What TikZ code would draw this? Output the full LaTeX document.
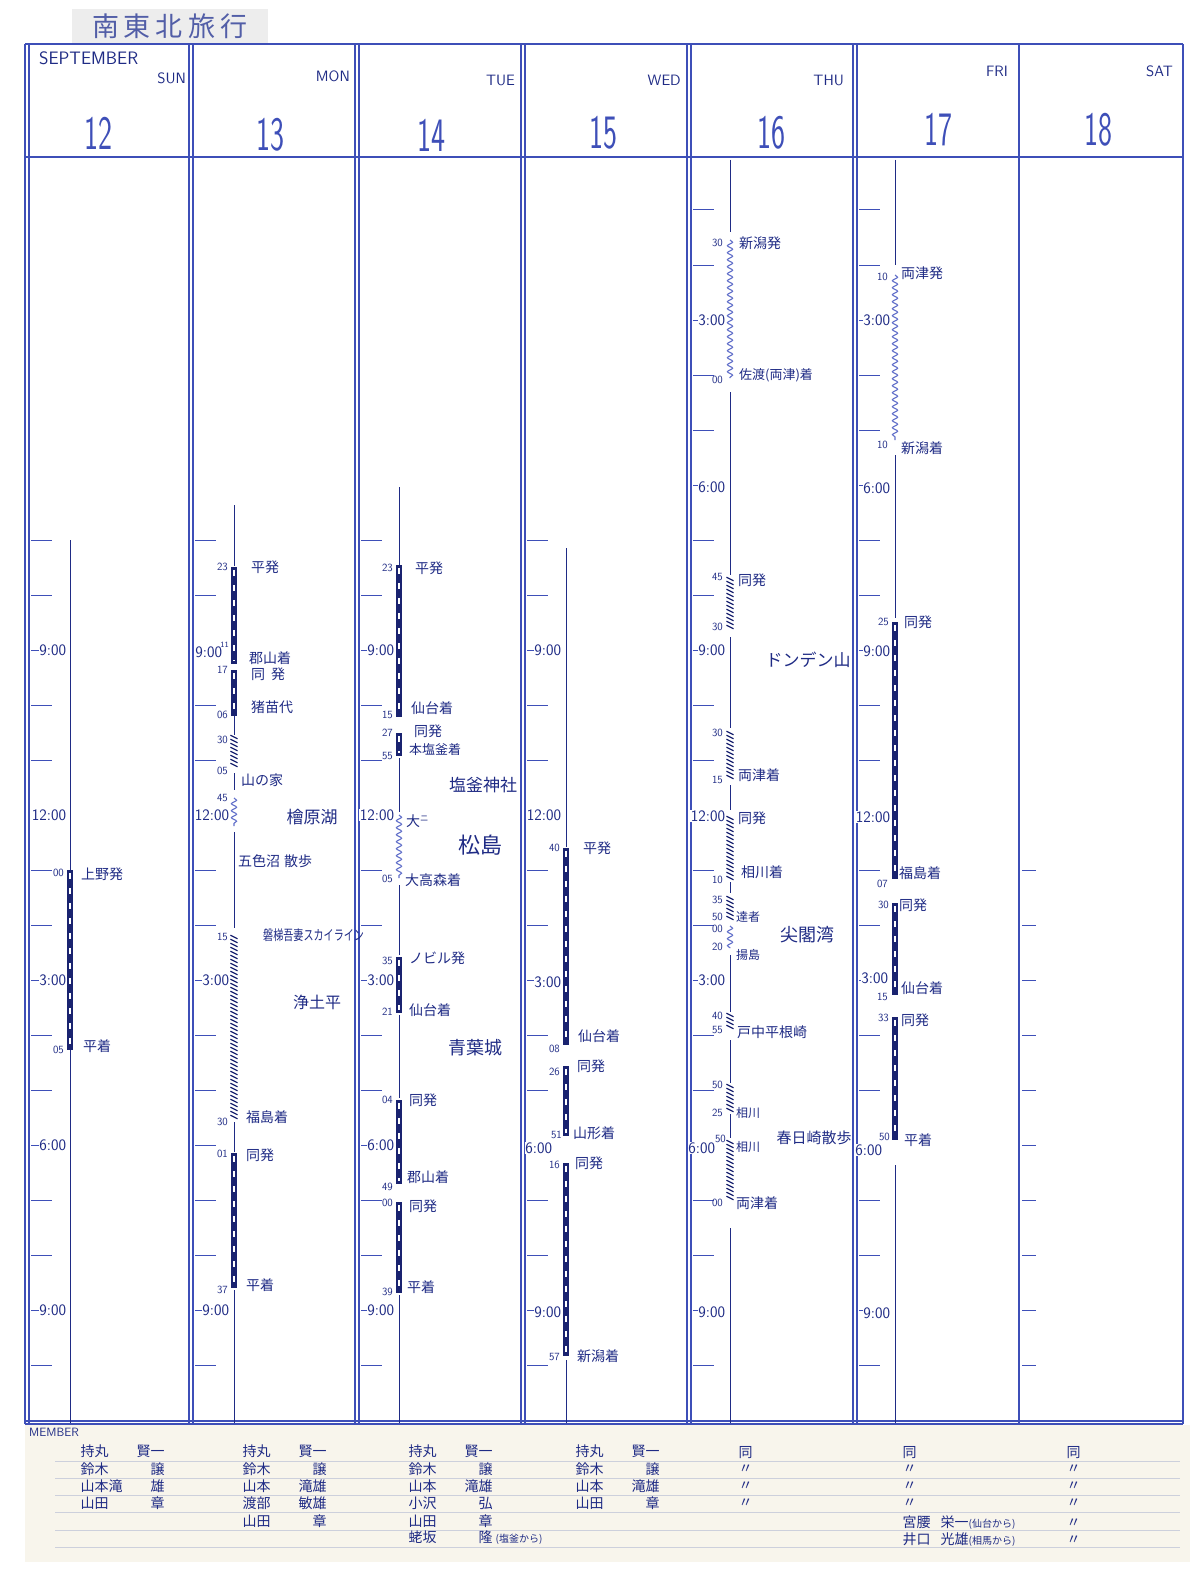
\documentclass[tikz,border=0pt]{standalone}
\usepackage{fontspec}
\usetikzlibrary{decorations.pathmorphing}
\newfontfamily\jp{Noto Sans CJK JP}
\definecolor{gridc}{HTML}{3E4FB8}
\definecolor{ink}{HTML}{1F2B85}
\definecolor{barc}{HTML}{1A2370}
\definecolor{wavec}{HTML}{6270CA}
\definecolor{paper}{HTML}{F8F5EC}
\definecolor{rulec}{HTML}{CDD0DC}
\newcommand\hrf{\sffamily\fontsize{16}{16}\selectfont}
\newcommand\mnf{\sffamily\fontsize{11}{11}\selectfont}
\newcommand\evf{\jp\fontsize{14}{14}\selectfont}
\newcommand\bigf{\jp\fontsize{19}{19}\selectfont}
\newcommand\nmf{\jp\fontsize{14}{14}\selectfont}
\newcommand\myrail[3]{\draw[railbar] (#1,#2) -- (#1,#3); \draw[raildash] (#1,#2+3) -- (#1,#3-3);}
\newcommand\mywave[3]{\draw[wave] (#1,#2) -- (#1,#3);}
\newcommand\myax[3]{\draw[axis] (#1,#2) -- (#1,#3);}
\newcommand\myhatch[3]{\pgfmathtruncatemacro\hn{#2+4}\foreach \yy in {#2,\hn,...,#3} {\draw[hatch] (#1-3.5,\yy-1.8) -- (#1+3.5,\yy+1.8);}}
\newcommand\nm[2]{\makebox[84pt][l]{#1\hfill#2}}
\begin{document}
\begin{tikzpicture}[x=1pt,y=-1pt,
  gridl/.style={draw=gridc,line width=1.1pt},
  tick/.style={draw=gridc,line width=1pt},
  axis/.style={draw=ink,line width=1pt},
  railbar/.style={draw=barc,line width=6pt},
  raildash/.style={draw=white,line width=1.5pt,dash pattern=on 6pt off 9pt},
  wave/.style={draw=wavec,line width=1.1pt,decorate,decoration={snake,amplitude=2.6pt,segment length=7pt}},
  hatch/.style={draw=barc,line width=1.2pt},
  hr/.style={font=\hrf,text=ink,anchor=east,fill=white,inner sep=0.6pt},
  mn/.style={font=\mnf,text=ink,anchor=east,inner sep=1pt},
  ev/.style={font=\evf,text=ink,anchor=west,inner sep=1pt},
  big/.style={font=\bigf,text=ink,inner sep=1pt},
  hdr/.style={font=\sffamily\fontsize{15}{15}\selectfont,text=ink,inner sep=1pt},
  datef/.style={font=\sffamily\fontsize{48}{48}\selectfont,text=gridc,inner sep=0pt},
  mem/.style={font=\nmf,text=ink,anchor=west,inner sep=0.5pt}]
\useasboundingbox (0,0) rectangle (1200,1570);
\fill[white] (0,0) rectangle (1200,1570);
\fill[paper] (25,1425) rectangle (1190,1562);
% title
\fill[black!7] (72,9) rectangle (268,44);
\node[font=\jp\fontsize{27}{27}\selectfont,text=gridc!70!gray,inner sep=0pt] (title) at (170,26) {南\hspace{5pt}東\hspace{5pt}北\hspace{6pt}旅\hspace{5pt}行};
% grid frame
\draw[gridl] (25,44) -- (1183,44);
\draw[gridl] (25,157) -- (1183,157);
\draw[gridl] (25,1421) -- (1183,1421);
\draw[gridl] (25,1424) -- (1183,1424);
\foreach \x in {27,191,357,523,689,855} {\draw[gridl] (\x-2,44) -- (\x-2,1424); \draw[gridl] (\x+2,44) -- (\x+2,1424);}
\draw[gridl] (1019,44) -- (1019,1424);
\draw[gridl] (1183,44) -- (1183,1424);
% header
\node[hdr,anchor=west,font=\sffamily\fontsize{18}{18}\selectfont] (sept) at (38,58) {SEPTEMBER};
\node[hdr,anchor=east] (d1) at (187,78) {SUN};
\node[hdr,anchor=east] (d2) at (351,76) {MON};
\node[hdr,anchor=east] (d3) at (516,80) {TUE};
\node[hdr,anchor=east] (d4) at (682,80) {WED};
\node[hdr,anchor=east] (d5) at (845,80) {THU};
\node[hdr,anchor=east] (d6) at (1009,71) {FRI};
\node[hdr,anchor=east] (d7) at (1174,71) {SAT};
\node[datef] (n12) at (98,133) {\scalebox{0.62}[1]{12}};
\node[datef] (n13) at (270,135) {\scalebox{0.62}[1]{13}};
\node[datef] (n14) at (431,135) {\scalebox{0.62}[1]{14}};
\node[datef] (n15) at (603,133) {\scalebox{0.62}[1]{15}};
\node[datef] (n16) at (771,133) {\scalebox{0.62}[1]{16}};
\node[datef] (n17) at (938,130) {\scalebox{0.62}[1]{17}};
\node[datef] (n18) at (1098,130) {\scalebox{0.62}[1]{18}};
% ticks
\foreach \L/\hs in {27/7,191/7,357/7,523/7,689/1,855/1} {
  \foreach \h in {\hs,...,22} {\draw[tick] (\L+4,{650+(\h-9)*55}) -- (\L+25,{650+(\h-9)*55});}}
\foreach \h in {13,...,22} {\draw[tick] (1022,{650+(\h-9)*55}) -- (1036,{650+(\h-9)*55});}
% ===== col 12 =====
\myax{70}{540}{870}
\myrail{70}{870}{1050}
\myax{70}{1050}{1423}
\node[hr] at (67,650) {9:00};
\node[hr] at (67,815) {12:00};
\node[hr] at (67,980) {3:00};
\node[hr] at (67,1145) {6:00};
\node[hr] at (67,1310) {9:00};
\node[mn] at (65,873) {00};
\node[ev] (c12a) at (80,874) {上野発};
\node[mn] at (65,1050) {05};
\node[ev] (c12b) at (82,1046) {平着};
% ===== col 13 =====
\myax{234}{505}{566}
\myrail{234}{567}{664}
\myrail{234}{670}{716}
\myax{234}{716}{735}
\myhatch{234}{737}{767}
\myax{234}{773}{790}
\mywave{234}{798}{826}
\myax{234}{832}{928}
\myhatch{234}{937}{1120}
\myax{234}{1122}{1152}
\myrail{234}{1153}{1288}
\myax{234}{1290}{1423}
\node[hr] at (223,652) {9:00};
\node[hr] at (230,815) {12:00};
\node[hr] at (230,980) {3:00};
\node[hr] at (230,1310) {9:00};
\node[mn] at (229,567) {23};
\node[mn,font=\sffamily\fontsize{8}{8}\selectfont] at (230,645) {11};
\node[mn] at (229,670) {17};
\node[mn] at (229,715) {06};
\node[mn] at (229,740) {30};
\node[mn] at (229,771) {05};
\node[mn] at (229,798) {45};
\node[mn] at (229,937) {15};
\node[mn] at (229,1122) {30};
\node[mn] at (229,1154) {01};
\node[mn] at (229,1290) {37};
\node[ev] (c13a) at (250,567) {平発};
\node[ev] (c13b) at (248,658) {郡山着};
\node[ev] (c13c) at (250,674) {同\hspace{6pt}発};
\node[ev] (c13d) at (250,707) {猪苗代};
\node[ev] (c13e) at (240,780) {山の家};
\node[ev] (c13f) at (237,861) {五色沼\hspace{4pt}散歩};
\node[ev] (c13g) at (245,1117) {福島着};
\node[ev] (c13h) at (245,1155) {同発};
\node[ev] (c13i) at (245,1285) {平着};
\node[big,font=\jp\fontsize{17}{17}\selectfont] (c13j) at (312,817) {檜原湖};
\node[big,anchor=west,font=\jp\fontsize{14}{14}\selectfont] (c13k) at (262,935) {\scalebox{0.72}[1]{磐梯吾妻スカイライン}};
\node[big,font=\jp\fontsize{16}{16}\selectfont] (c13l) at (317,1002) {浄土平};
% ===== col 14 =====
\myax{399}{487}{565}
\myrail{399}{565}{717}
\myrail{399}{733}{756}
\myax{399}{758}{812}
\mywave{399}{815}{878}
\myax{399}{885}{955}
\myrail{399}{957}{1013}
\myax{399}{1015}{1098}
\myrail{399}{1100}{1184}
\myrail{399}{1202}{1293}
\myax{399}{1295}{1423}
\node[hr] at (395,650) {9:00};
\node[hr] at (395,815) {12:00};
\node[hr] at (395,980) {3:00};
\node[hr] at (395,1145) {6:00};
\node[hr] at (395,1310) {9:00};
\node[mn] at (394,568) {23};
\node[mn] at (394,715) {15};
\node[mn] at (394,733) {27};
\node[mn] at (394,756) {55};
\node[mn] at (394,879) {05};
\node[mn] at (394,961) {35};
\node[mn] at (394,1012) {21};
\node[mn] at (394,1100) {04};
\node[mn] at (394,1187) {49};
\node[mn] at (394,1203) {00};
\node[mn] at (394,1292) {39};
\node[ev] (c14a) at (414,568) {平発};
\node[ev] (c14b) at (410,708) {仙台着};
\node[ev] (c14c) at (413,731) {同発};
\node[ev,font=\jp\fontsize{13}{13}\selectfont] (c14d) at (408,750) {本塩釜着};
\node[ev] (c14e) at (405,821) {大\raisebox{5pt}{\scalebox{0.6}{ニ}}};
\node[ev] (c14f) at (404,880) {大高森着};
\node[ev] (c14g) at (408,958) {ノビル発};
\node[ev] (c14h) at (408,1010) {仙台着};
\node[ev] (c14i) at (408,1100) {同発};
\node[ev] (c14j) at (406,1177) {郡山着};
\node[ev] (c14k) at (408,1206) {同発};
\node[ev] (c14l) at (406,1287) {平着};
\node[big,font=\jp\fontsize{17}{17}\selectfont] (c14m) at (483,785) {塩釜神社};
\node[big,font=\jp\fontsize{22}{22}\selectfont] (c14n) at (480,845) {松島};
\node[big,font=\jp\fontsize{18}{18}\selectfont] (c14o) at (475,1048) {青葉城};
% ===== col 15 =====
\myax{566}{548}{847}
\myrail{566}{848}{1045}
\myrail{566}{1066}{1136}
\myrail{566}{1163}{1356}
\myax{566}{1360}{1423}
\node[hr] at (562,650) {9:00};
\node[hr] at (562,815) {12:00};
\node[hr] at (562,982) {3:00};
\node[hr] at (553,1148) {6:00};
\node[hr] at (562,1312) {9:00};
\node[mn] at (561,848) {40};
\node[mn] at (561,1049) {08};
\node[mn] at (561,1072) {26};
\node[mn] at (563,1135) {51};
\node[mn] at (561,1165) {16};
\node[mn] at (561,1357) {57};
\node[ev] (c15a) at (582,848) {平発};
\node[ev] (c15b) at (577,1036) {仙台着};
\node[ev] (c15c) at (576,1066) {同発};
\node[ev] (c15d) at (572,1133) {山形着};
\node[ev] (c15e) at (574,1163) {同発};
\node[ev] (c15f) at (576,1356) {新潟着};
% ===== col 16 =====
\myax{730}{160}{232}
\mywave{730}{240}{378}
\myax{730}{392}{575}
\myhatch{730}{579}{627}
\myax{730}{637}{728}
\myhatch{730}{733}{780}
\myax{730}{785}{810}
\myhatch{730}{818}{880}
\myax{730}{882}{893}
\myhatch{730}{898}{918}
\mywave{730}{926}{948}
\myax{730}{955}{1012}
\myhatch{730}{1015}{1028}
\myax{730}{1040}{1083}
\myhatch{730}{1086}{1112}
\myax{730}{1114}{1138}
\myhatch{730}{1142}{1198}
\myax{730}{1228}{1423}
\node[hr] at (726,320) {3:00};
\node[hr] at (726,487) {6:00};
\node[hr] at (726,650) {9:00};
\node[hr] at (726,816) {12:00};
\node[hr] at (726,980) {3:00};
\node[hr] at (716,1148) {6:00};
\node[hr] at (726,1312) {9:00};
\node[mn] at (724,243) {30};
\node[mn] at (724,380) {00};
\node[mn] at (724,577) {45};
\node[mn] at (724,627) {30};
\node[mn] at (724,733) {30};
\node[mn] at (724,780) {15};
\node[mn] at (724,880) {10};
\node[mn] at (724,900) {35};
\node[mn] at (724,917) {50};
\node[mn] at (724,929) {00};
\node[mn] at (724,947) {20};
\node[mn] at (724,1016) {40};
\node[mn] at (724,1030) {55};
\node[mn] at (724,1085) {50};
\node[mn] at (724,1113) {25};
\node[mn] at (727,1139) {50};
\node[mn] at (724,1203) {00};
\node[ev] (c16a) at (738,243) {新潟発};
\node[ev,font=\jp\fontsize{13}{13}\selectfont] (c16b) at (738,375) {佐渡(両津)着};
\node[ev] (c16c) at (737,580) {同発};
\node[ev] (c16d) at (737,775) {両津着};
\node[ev] (c16e) at (737,818) {同発};
\node[ev] (c16f) at (740,872) {相川着};
\node[ev,font=\jp\fontsize{12}{12}\selectfont] (c16g) at (735,917) {達者};
\node[ev,font=\jp\fontsize{12}{12}\selectfont] (c16h) at (735,955) {揚島};
\node[ev] (c16i) at (736,1032) {戸中平根崎};
\node[ev,font=\jp\fontsize{12}{12}\selectfont] (c16j) at (735,1113) {相川};
\node[ev,font=\jp\fontsize{12}{12}\selectfont] (c16k) at (735,1147) {相川};
\node[ev] (c16l) at (735,1203) {両津着};
\node[big,font=\jp\fontsize{17}{17}\selectfont] (c16m) at (808,660) {ドンデン山};
\node[big,font=\jp\fontsize{18}{18}\selectfont] (c16n) at (807,935) {尖閣湾};
\node[big,font=\jp\fontsize{15}{15}\selectfont] (c16o) at (814,1138) {春日崎散歩};
% ===== col 17 =====
\myax{895}{160}{265}
\mywave{895}{275}{440}
\myax{895}{455}{618}
\myrail{895}{622}{879}
\myrail{895}{903}{995}
\myrail{895}{1017}{1140}
\myax{895}{1165}{1423}
\node[hr] at (891,320) {3:00};
\node[hr] at (891,488) {6:00};
\node[hr] at (891,651) {9:00};
\node[hr] at (891,817) {12:00};
\node[hr] at (889,978) {3:00};
\node[hr] at (883,1150) {6:00};
\node[hr] at (891,1313) {9:00};
\node[mn] at (889,277) {10};
\node[mn] at (889,445) {10};
\node[mn] at (890,622) {25};
\node[mn] at (889,884) {07};
\node[mn] at (890,905) {30};
\node[mn] at (889,997) {15};
\node[mn] at (890,1018) {33};
\node[mn] at (891,1137) {50};
\node[ev] (c17a) at (900,273) {両津発};
\node[ev] (c17b) at (900,448) {新潟着};
\node[ev] (c17c) at (903,622) {同発};
\node[ev] (c17d) at (898,873) {福島着};
\node[ev] (c17e) at (898,905) {同発};
\node[ev] (c17f) at (900,988) {仙台着};
\node[ev] (c17g) at (900,1020) {同発};
\node[ev] (c17h) at (903,1140) {平着};
% ===== members =====
\foreach \y in {1461,1478,1495,1512,1530,1547} {\draw[rulec,line width=0.6pt] (55,\y) -- (1180,\y);}
\node[anchor=west,font=\sffamily\fontsize{12}{12}\selectfont,text=ink,inner sep=0pt] (memb) at (29,1432) {MEMBER};
\node[mem] (m1a) at (80,1451) {\nm{持丸}{賢一}};
\node[mem] (m1b) at (80,1469) {\nm{鈴木}{譲}};
\node[mem] (m1c) at (80,1486) {\nm{山本滝}{雄}};
\node[mem] (m1d) at (80,1503) {\nm{山田}{章}};
\node[mem] (m2a) at (242,1451) {\nm{持丸}{賢一}};
\node[mem] (m2b) at (242,1469) {\nm{鈴木}{譲}};
\node[mem] (m2c) at (242,1486) {\nm{山本}{滝雄}};
\node[mem] (m2d) at (242,1503) {\nm{渡部}{敏雄}};
\node[mem] (m2e) at (242,1521) {\nm{山田}{章}};
\node[mem] (m3a) at (408,1451) {\nm{持丸}{賢一}};
\node[mem] (m3b) at (408,1469) {\nm{鈴木}{譲}};
\node[mem] (m3c) at (408,1486) {\nm{山本}{滝雄}};
\node[mem] (m3d) at (408,1503) {\nm{小沢}{弘}};
\node[mem] (m3e) at (408,1521) {\nm{山田}{章}};
\node[mem] (m3f) at (408,1538) {\nm{蛯坂}{隆}\hspace{3pt}{\fontsize{10}{10}\selectfont (塩釜から)}};
\node[mem] (m4a) at (575,1451) {\nm{持丸}{賢一}};
\node[mem] (m4b) at (575,1469) {\nm{鈴木}{譲}};
\node[mem] (m4c) at (575,1486) {\nm{山本}{滝雄}};
\node[mem] (m4d) at (575,1503) {\nm{山田}{章}};
\node[mem] (m5a) at (738,1453) {同};
\foreach \y [count=\i] in {1469,1486,1503} {\node[mem] (m5\i) at (738,\y) {〃};}
\node[mem] (m6a) at (902,1453) {同};
\foreach \y [count=\i] in {1469,1486,1503} {\node[mem] (m6\i) at (902,\y) {〃};}
\node[mem] (m6e) at (902,1523) {宮腰\hspace{10pt}栄一{\fontsize{10}{10}\selectfont (仙台から)}};
\node[mem] (m6f) at (902,1540) {井口\hspace{10pt}光雄{\fontsize{10}{10}\selectfont (相馬から)}};
\node[mem] (m7a) at (1066,1453) {同};
\foreach \y [count=\i] in {1469,1486,1503,1523,1540} {\node[mem] (m7\i) at (1066,\y) {〃};}
\end{tikzpicture}
\end{document}
